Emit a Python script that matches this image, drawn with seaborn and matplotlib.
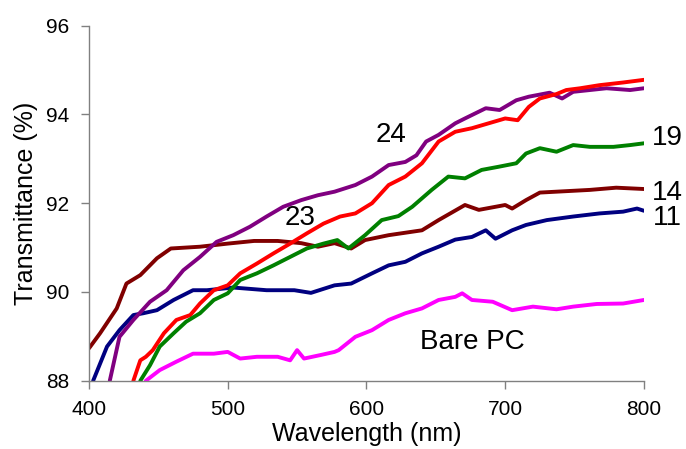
import numpy as np
import pandas as pd
import seaborn as sns
import matplotlib
matplotlib.use("Agg")
import matplotlib.pyplot as plt

# traced curves, wavelength (nm) vs transmittance (%)
wl_14 = [400, 408, 420, 427, 437, 449, 459, 480, 500, 519, 536, 553, 565, 577, 589, 599, 616, 640, 652, 671, 681, 700, 705, 715, 725, 737, 761, 780, 800]
t_14 = [88.73, 89.07, 89.63, 90.19, 90.38, 90.76, 90.98, 91.02, 91.09, 91.15, 91.15, 91.10, 91.02, 91.10, 90.98, 91.17, 91.28, 91.39, 91.62, 91.96, 91.85, 91.96, 91.88, 92.07, 92.24, 92.26, 92.30, 92.35, 92.32]

wl_11 = [403, 413, 422, 432, 439, 449, 461, 475, 485, 504, 528, 548, 560, 577, 589, 604, 616, 628, 640, 652, 664, 676, 686, 693, 705, 715, 730, 749, 768, 785, 795, 800]
t_11 = [88.0, 88.77, 89.14, 89.48, 89.52, 89.59, 89.82, 90.04, 90.04, 90.10, 90.04, 90.04, 89.98, 90.15, 90.19, 90.42, 90.60, 90.68, 90.87, 91.02, 91.18, 91.24, 91.39, 91.20, 91.39, 91.51, 91.62, 91.70, 91.77, 91.81, 91.88, 91.83]

wl_24 = [415, 422, 432, 444, 456, 468, 480, 492, 504, 516, 528, 540, 553, 565, 577, 592, 604, 616, 628, 636, 643, 652, 664, 671, 686, 696, 708, 717, 732, 741, 749, 773, 790, 800]
t_24 = [88.0, 88.99, 89.37, 89.78, 90.04, 90.49, 90.79, 91.13, 91.28, 91.47, 91.70, 91.92, 92.07, 92.18, 92.26, 92.41, 92.60, 92.86, 92.93, 93.08, 93.39, 93.54, 93.80, 93.91, 94.14, 94.10, 94.32, 94.40, 94.49, 94.36, 94.51, 94.59, 94.55, 94.59]

wl_23 = [432, 437, 441, 446, 454, 463, 473, 480, 490, 500, 509, 521, 533, 545, 557, 569, 581, 592, 604, 616, 628, 640, 652, 664, 676, 688, 700, 709, 717, 725, 737, 744, 754, 768, 785, 800]
t_23 = [88.0, 88.46, 88.54, 88.69, 89.07, 89.37, 89.48, 89.74, 90.04, 90.15, 90.42, 90.64, 90.87, 91.09, 91.32, 91.54, 91.70, 91.77, 92.00, 92.41, 92.60, 92.90, 93.39, 93.61, 93.69, 93.80, 93.91, 93.87, 94.17, 94.36, 94.46, 94.55, 94.59, 94.66, 94.72, 94.78]

wl_19 = [437, 444, 451, 461, 470, 480, 490, 500, 509, 521, 533, 545, 557, 569, 579, 587, 599, 611, 623, 633, 647, 659, 671, 683, 695, 708, 715, 725, 737, 749, 761, 778, 790, 800]
t_19 = [88.0, 88.35, 88.77, 89.07, 89.33, 89.52, 89.82, 89.97, 90.27, 90.42, 90.60, 90.79, 90.98, 91.09, 91.17, 90.98, 91.28, 91.62, 91.71, 91.92, 92.30, 92.60, 92.56, 92.75, 92.82, 92.90, 93.12, 93.24, 93.16, 93.31, 93.27, 93.27, 93.31, 93.35]

wl_pc = [441, 451, 463, 475, 490, 500, 509, 521, 536, 545, 550, 555, 567, 577, 580, 592, 604, 616, 628, 640, 652, 664, 669, 676, 691, 705, 720, 737, 749, 766, 785, 800]
t_pc = [88.0, 88.24, 88.43, 88.61, 88.61, 88.65, 88.50, 88.54, 88.54, 88.46, 88.69, 88.50, 88.58, 88.65, 88.69, 88.99, 89.14, 89.37, 89.52, 89.63, 89.82, 89.89, 89.97, 89.82, 89.78, 89.59, 89.67, 89.61, 89.67, 89.73, 89.74, 89.82]

series = [
    (wl_14, t_14, "#800000"),
    (wl_11, t_11, "#000080"),
    (wl_24, t_24, "#800080"),
    (wl_23, t_23, "#FF0000"),
    (wl_19, t_19, "#008000"),
    (wl_pc, t_pc, "#FF00FF"),
]

labels = ["24", "23", "19", "14", "11", "Bare PC"]
label_x = [618, 552, 817, 817, 817, 676]
label_y = [93.54, 91.66, 93.47, 92.23, 91.66, 88.87]

sns.set_style("ticks")
plt.rcParams['font.family'] = ['Liberation Sans', 'DejaVu Sans']

fig = plt.figure(figsize=(6.86, 4.49), dpi=100)
ax = fig.add_axes([0.1297, 0.152, 0.809, 0.7908])

for wl, t, color in series:
    df = pd.DataFrame({'wl': wl, 't': t})
    sns.lineplot(data=df, x='wl', y='t', color=color, linewidth=2.8, ax=ax, sort=False)

for lab, lx, ly in zip(labels, label_x, label_y):
    ax.text(lx, ly, lab, fontsize=20, ha='center', va='center', color='black', clip_on=False)

ax.set_xlim(400, 800)
ax.set_ylim(88, 96)
ax.set_xticks([400, 500, 600, 700, 800])
ax.set_yticks([88, 90, 92, 94, 96])
ax.tick_params(labelsize=15, length=6, width=1, color='#808080', labelcolor='black', pad=8)
ax.set_xlabel("Wavelength (nm)", fontsize=18, labelpad=2, color='black')
ax.set_ylabel("Transmittance (%)", fontsize=18, labelpad=6, color='black')
for s in ['top', 'right']:
    ax.spines[s].set_visible(False)
for s in ['left', 'bottom']:
    ax.spines[s].set_color('#808080')
    ax.spines[s].set_linewidth(1)

fig.savefig("out.png", dpi=100)
